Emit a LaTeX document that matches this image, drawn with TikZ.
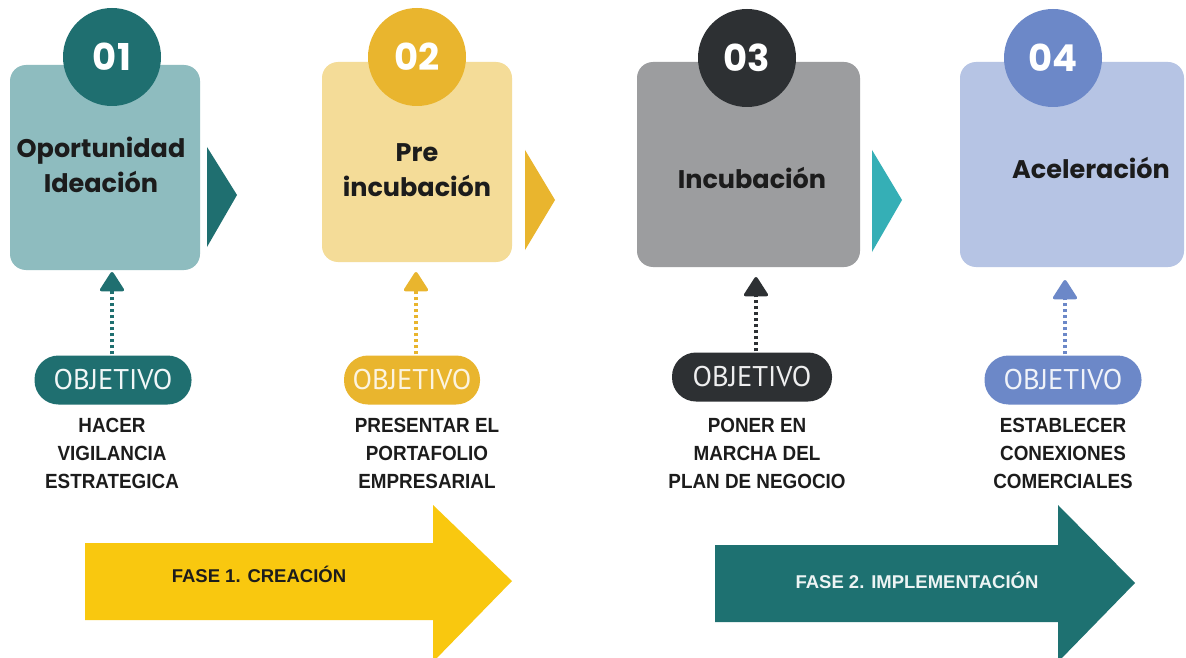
\documentclass[tikz,border=0pt]{standalone}
\usepackage{fontspec}
\setmainfont{Liberation Sans}
\newfontfamily\popfont{Poppins}[UprightFont=* Bold]
\newfontfamily\ptfont{PT Sans}
\newfontfamily\condfont{Liberation Sans}[FakeStretch=0.92]
\usetikzlibrary{arrows.meta}
\definecolor{tealD}{HTML}{1F6F70}
\definecolor{tealL}{HTML}{8EBCBF}
\definecolor{yelD}{HTML}{E9B52E}
\definecolor{yelL}{HTML}{F4DC98}
\definecolor{greyD}{HTML}{2D3033}
\definecolor{greyL}{HTML}{9C9D9F}
\definecolor{cyanT}{HTML}{35AFB6}
\definecolor{bluD}{HTML}{6C88C8}
\definecolor{bluL}{HTML}{B6C4E4}
\definecolor{phaseY}{HTML}{F9C80F}
\definecolor{phaseT}{HTML}{1E7171}
\definecolor{txt}{HTML}{1C1C1C}
\tikzset{
  stagebox/.style={rounded corners=16pt, inner sep=0pt},
  numcircle/.style={circle, minimum size=98pt, inner sep=0pt, text=white,
    font=\popfont\fontsize{37}{37}\selectfont},
  boxtitle/.style={align=center, text=txt, font=\popfont\fontsize{25.5}{35}\selectfont},
  objpill/.style={rounded corners=24pt, minimum width=157pt, minimum height=49pt, inner sep=0pt,
    font=\ptfont\fontsize{28.5}{28.5}\selectfont},
  objdesc/.style={align=center, text=txt, font=\condfont\bfseries\fontsize{20.5}{28}\selectfont},
  conn/.style={line width=3.4pt, dash pattern=on 3pt off 3pt,
    -{Triangle[width=26pt,length=21pt,round]}, shorten <=1pt},
  phasetext/.style={font=\bfseries\fontsize{18.5}{18.5}\selectfont}
}
\begin{document}
\begin{tikzpicture}[x=1pt,y=-1pt]
\useasboundingbox (0,0) rectangle (1186,658);
\clip (0,0) rectangle (1186,658);
\fill[white] (0,0) rectangle (1186,658);

% stage boxes
\fill[tealL, stagebox] (10,65) rectangle (200,270);
\fill[yelL, stagebox] (322,62) rectangle (512,262);
\fill[greyL, stagebox] (637,62) rectangle (860,267);
\fill[bluL, stagebox] (960,62) rectangle (1184,267);

% number circles
\node[numcircle, fill=tealD] (c1) at (112,57) {01};
\node[numcircle, fill=yelD] (c2) at (417,57) {02};
\node[numcircle, fill=greyD] (c3) at (747,58) {03};
\node[numcircle, fill=bluD] (c4) at (1053,58) {04};

% titles
\node[boxtitle] (t1) at (101,165) {Oportunidad\\Ideación};
\node[boxtitle] (t2) at (417,170) {Pre\\incubación};
\node[boxtitle] (t3) at (752,178) {Incubación};
\node[boxtitle] (t4) at (1091,168) {Aceleración};

% side triangles
\fill[tealD] (207,147) -- (237,195) -- (207,247) -- cycle;
\fill[yelD] (525,150) -- (555,200) -- (525,250) -- cycle;
\fill[cyanT] (872,150) -- (902,200) -- (872,252) -- cycle;

% objective pills
\node[objpill, fill=tealD, text=white!88!tealL] (o1) at (113,380) {OBJETIVO};
\node[objpill, fill=yelD, text=white!85!yelD, minimum width=136pt] (o2) at (412,380) {OBJETIVO};
\node[objpill, fill=greyD, text=white!92!greyD, minimum width=160pt] (o3) at (752,377) {OBJETIVO};
\node[objpill, fill=bluD, text=white!90!bluD] (o4) at (1063,380) {OBJETIVO};

% arrow tips
\coordinate (a1) at (112,272);
\coordinate (a2) at (416,272);
\coordinate (a3) at (756,277);
\coordinate (a4) at (1065,280);
\draw[conn, tealD] (o1.north -| a1) -- (a1);
\draw[conn, yelD] (o2.north -| a2) -- (a2);
\draw[conn, greyD] (o3.north -| a3) -- (a3);
\draw[conn, bluD] (o4.north -| a4) -- (a4);

% descriptions
\node[objdesc] (d1) at (112,453) {HACER\\VIGILANCIA\\ESTRATEGICA};
\node[objdesc] (d2) at (427,453) {PRESENTAR EL\\PORTAFOLIO\\EMPRESARIAL};
\node[objdesc] (d3) at (757,453) {PONER EN\\MARCHA DEL\\PLAN DE NEGOCIO};
\node[objdesc] (d4) at (1063,453) {ESTABLECER\\CONEXIONES\\COMERCIALES};

% phase arrows
\fill[phaseY] (85,543) -- (433,543) -- (433,505) -- (512,581) -- (433,662) -- (433,620) -- (85,620) -- cycle;
\node[phasetext, text=txt] (f1) at (259,574) {FASE 1. CREACIÓN};
\fill[phaseT] (715,545) -- (1058,545) -- (1058,505) -- (1135,583) -- (1058,662) -- (1058,622) -- (715,622) -- cycle;
\node[phasetext, text=white!92!phaseT] (f2) at (917,580) {FASE 2. IMPLEMENTACIÓN};
\end{tikzpicture}
\end{document}
